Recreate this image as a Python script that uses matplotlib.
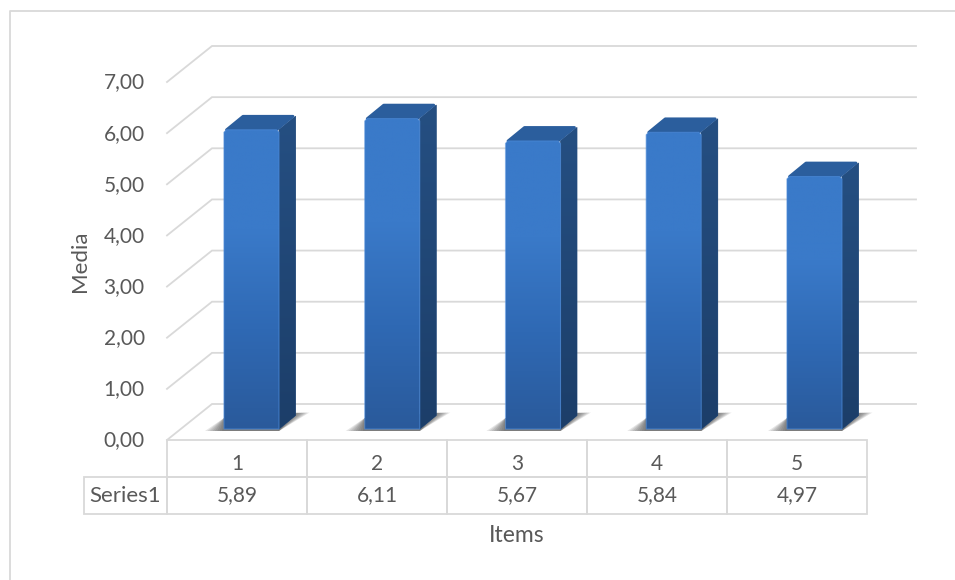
import matplotlib
matplotlib.use("Agg")
import matplotlib.pyplot as plt
from matplotlib.lines import Line2D
from matplotlib.colors import LinearSegmentedColormap
from matplotlib.transforms import Affine2D
import numpy as np

items = [1, 2, 3, 4, 5]
media = [5.89, 6.11, 5.67, 5.84, 4.97]
media_labels = ["5,89", "6,11", "5,67", "5,84", "4,97"]
y_ticks = [0, 1, 2, 3, 4, 5, 6, 7]
y_tick_labels = ["0,00", "1,00", "2,00", "3,00", "4,00", "5,00", "6,00", "7,00"]

plt.rcParams["font.family"] = ["Lato", "DejaVu Sans"]

W, H = 955, 580
GRID = "#d9d9d9"
TEXT = "#595959"
LEFT, RIGHT, TOP, BOTTOM = 167, 867, 82, 440
PX_X = (RIGHT - LEFT) / 5
PX_Y = (BOTTOM - TOP) / 7

fig = plt.figure(figsize=(W / 100, H / 100), dpi=100)
ax = fig.add_axes([LEFT / W, 1 - BOTTOM / H, (RIGHT - LEFT) / W, (BOTTOM - TOP) / H])
ax.set_facecolor("none")
for s in ax.spines.values():
    s.set_visible(False)

# outer chart frame, only left and top fall inside the canvas
fig.add_artist(Line2D([9.5 / W, 9.5 / W, 1], [0, 1 - 10.5 / H, 1 - 10.5 / H], color=GRID, lw=1.3))

# depth of the 3D box, expressed in data units
wall_dx, wall_dy = 45 / PX_X, 36 / PX_Y
back_end = 5.5 + 49 / PX_X
for t in y_ticks:
    ax.plot([0.5, 0.5 + wall_dx, back_end], [t, t + wall_dy, t + wall_dy],
            color=GRID, lw=1.3, clip_on=False, zorder=1, solid_joinstyle="miter")

# colour ramps for the bar faces
front_cmap = LinearSegmentedColormap.from_list("front", ["#2a5a9b", "#2f69b4", "#3a7ac9", "#3a7ac9"])
side_cmap = LinearSegmentedColormap.from_list("side", ["#1c3e69", "#254f82"])
ramp = np.linspace(1, 0, 256).reshape(-1, 1)

bar_dx, bar_dy = 14.5 / PX_X, 11 / PX_Y
depth_dx, depth_dy = 16.5 / PX_X, 13.5 / PX_Y
bar_w = 55 / PX_X
# bars sit on a plane slightly wider and shorter than the front of the box
bar_spread = 140.75 / 140
bar_scale = 50.8 / PX_Y
x = 1 + (np.array(items, dtype=float) - 1) * bar_spread
heights = np.array(media) * bar_scale
bars = ax.bar(x + bar_dx, heights, bar_w, bottom=bar_dy, color="none", lw=0, zorder=4)
cx, cy = 2.5 / PX_X, 2.5 / PX_Y

for bar, v in zip(bars, heights):
    x0, x1 = bar.get_x(), bar.get_x() + bar.get_width()
    y0, y1 = bar_dy, bar_dy + v

    # soft floor shadow behind the foot of the bar
    for k in np.linspace(1, 0.1, 8):
        ax.fill([x0 - k * 19 / PX_X, x0, x1 + depth_dx + k * 14 / PX_X, x1],
                [y0 - 2 / PX_Y, y0 + 11 / PX_Y, y0 + depth_dy + 3 / PX_Y, y0 - 2 / PX_Y],
                color="#404040", alpha=0.13, lw=0, zorder=2, clip_on=False)

    # right side face
    side = ax.fill([x1, x1 + depth_dx, x1 + depth_dx, x1],
                   [y0, y0 + depth_dy, y1 + depth_dy, y1],
                   color="#224a7c", ec="#224a7c", lw=0.5, joinstyle="round", zorder=3)[0]
    im = ax.imshow(ramp, cmap=side_cmap, aspect="auto", zorder=3.1,
                   extent=[x1, x1 + depth_dx, y0, y1 + depth_dy])
    im.set_clip_path(side)

    # top face
    ax.fill([x0 + cx, x1 - cx, x1 + depth_dx - cx, x0 + depth_dx + cx],
            [y1, y1, y1 + depth_dy, y1 + depth_dy],
            color="#2b5e9d", ec="#2b5e9d", lw=2, joinstyle="round", zorder=3.2)

    # front face with clipped top corners and a gradient
    front = ax.fill([x0, x1, x1, x1 - cx, x0 + cx, x0],
                    [y0, y0, y1 - cy, y1, y1, y1 - cy],
                    color="#3672bf", ec="#4a88d6", lw=0.8, zorder=4.05)[0]
    im = ax.imshow(ramp, cmap=front_cmap, aspect="auto", zorder=4.02,
                   extent=[x0, x1, y0, y1])
    im.set_clip_path(front)
    front.set_facecolor("none")
    front.set_alpha(0.7)

ax.set_xlim(0.5, 5.5)
ax.set_ylim(0, 7)
ax.set_xticks([])
ax.set_yticks(y_ticks, y_tick_labels)
ax.tick_params(axis="y", length=0, pad=16, labelsize=15, labelcolor=TEXT)
for lab in ax.get_yticklabels():
    lab.set_transform(lab.get_transform() + Affine2D().translate(0, 1.5))

ax.set_ylabel("Media", fontsize=16, color=TEXT, va="center")
ax.yaxis.set_label_coords((80 - LEFT) / (RIGHT - LEFT), 0.5)
ax.set_xlabel("Items", fontsize=16.5, color=TEXT, va="center")
ax.xaxis.set_label_coords(0.5, -(536 - BOTTOM) / (BOTTOM - TOP))

# data table under the plot
label_w = LEFT - 84
total_w = RIGHT - 84
cell_text = [[""] + [str(i) for i in items], ["Series1"] + media_labels]
table = ax.table(cellText=cell_text, cellLoc="center",
                 colWidths=[label_w / total_w] + [PX_X / total_w] * 5,
                 bbox=[-label_w / (RIGHT - LEFT), -74 / (BOTTOM - TOP),
                       total_w / (RIGHT - LEFT), 74 / (BOTTOM - TOP)])
table.auto_set_font_size(False)
for (r, c), cell in table.get_celld().items():
    cell.set_edgecolor(GRID)
    cell.set_linewidth(1.3)
    cell.set_text_props(color=TEXT, fontsize=15)
    cell.set_facecolor("none")
    if r == 0:
        cell.get_text().set_transform(Affine2D().translate(0, -5.5))
    if r == 0 and c == 0:
        cell.set_edgecolor("none")
table[(1, 0)].set_text_props(fontsize=16)

fig.savefig("out.png", dpi=100)
